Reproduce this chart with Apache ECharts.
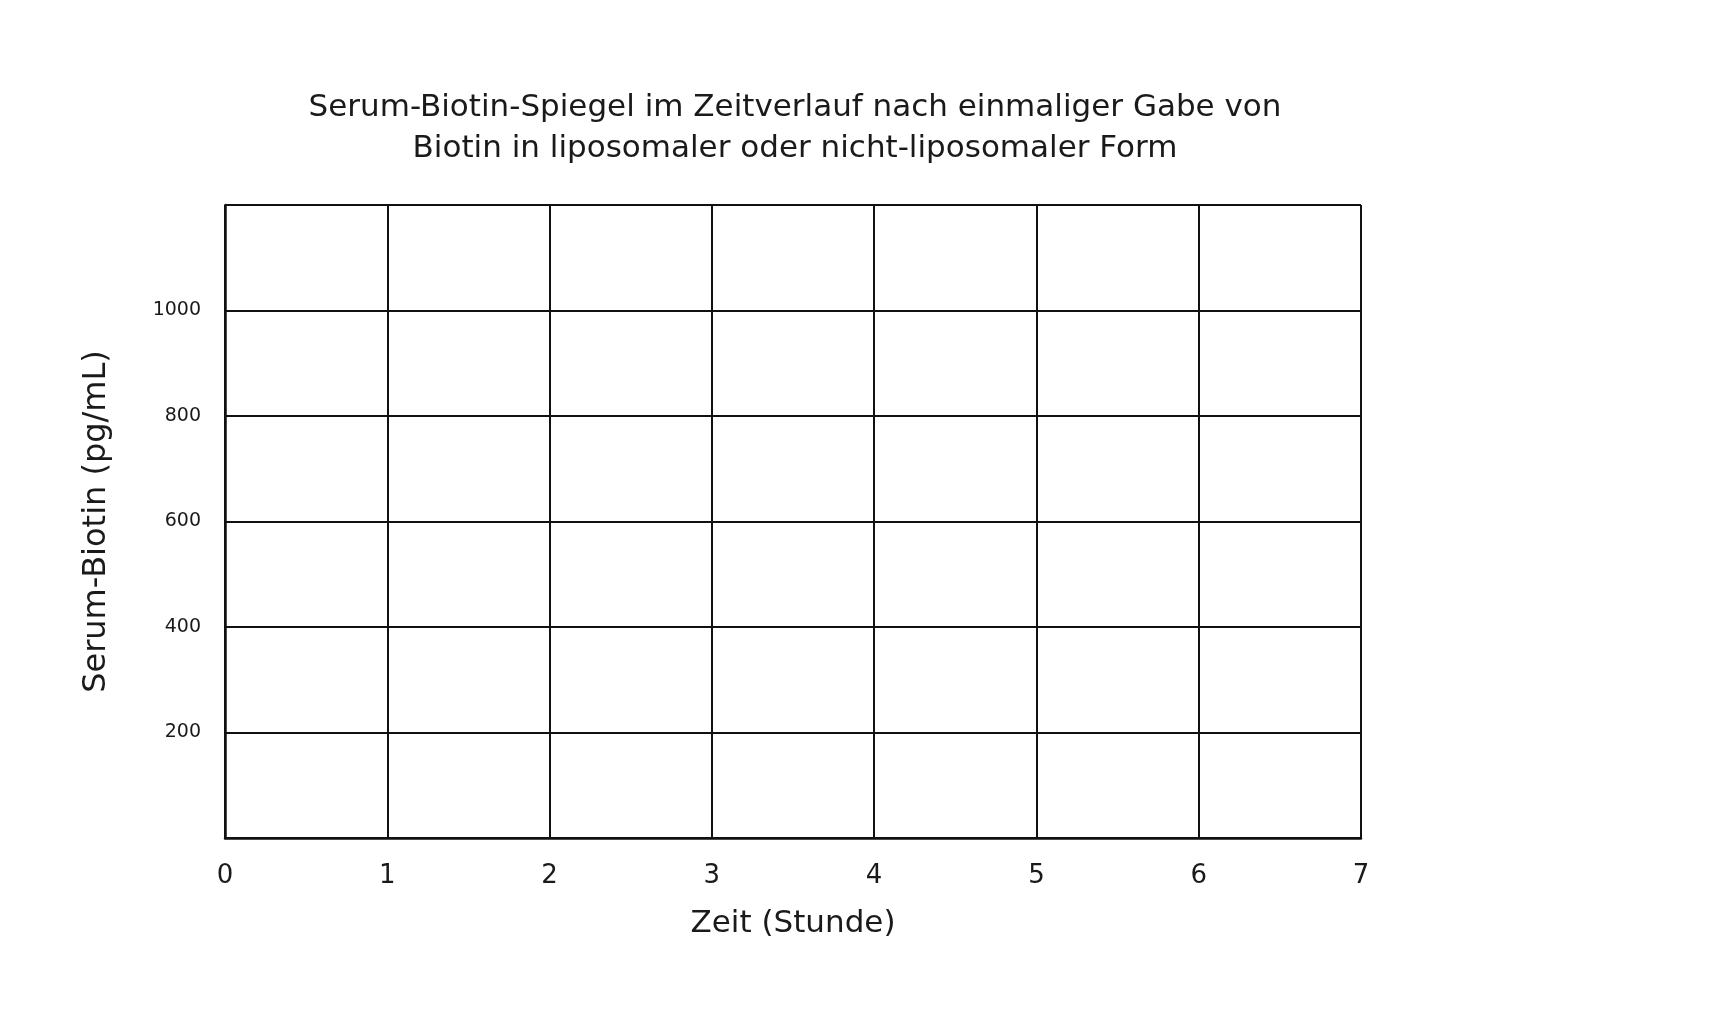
<!DOCTYPE html>
<html>
<head>
<meta charset="utf-8">
<script src="https://cdn.jsdelivr.net/npm/echarts@6/dist/echarts.min.js"></script>
<style>
  html, body { margin: 0; padding: 0; background: #fff; }
  #main { width: 1719px; height: 1029px; }
</style>
</head>
<body>
<div id="main"></div>
<script>
// Achsen (leeres Arbeitsblatt-Diagramm)
var hourTicks = [0, 1, 2, 3, 4, 5, 6, 7];
var biotinTicks = [0, 200, 400, 600, 800, 1000, 1200];
// Messreihen - im Original noch nicht eingetragen
var liposomal = [];
var nichtLiposomal = [];

var font = '"DejaVu Sans", sans-serif';
var ink = '#111';
var textInk = '#1a1a1a';

var chart = echarts.init(document.getElementById('main'));
chart.setOption({
  backgroundColor: '#fff',
  animation: false,
  title: {
    text: 'Serum-Biotin-Spiegel im Zeitverlauf nach einmaliger Gabe von\nBiotin in liposomaler oder nicht-liposomaler Form',
    left: 790,
    top: 82,
    textAlign: 'center',
    textStyle: {
      fontFamily: font,
      fontSize: 31,
      fontWeight: 'normal',
      color: textInk,
      lineHeight: 41
    }
  },
  grid: { left: 225, right: 358, top: 205, bottom: 191, containLabel: false },
  xAxis: {
    type: 'value',
    min: hourTicks[0],
    max: hourTicks[hourTicks.length - 1],
    interval: hourTicks[1] - hourTicks[0],
    name: 'Zeit (Stunde)',
    nameLocation: 'middle',
    nameGap: 70,
    nameTextStyle: { fontFamily: font, fontSize: 31, color: textInk },
    axisLine: { show: true, lineStyle: { color: ink, width: 2.5 } },
    axisTick: { show: false },
    axisLabel: { fontFamily: font, fontSize: 26, color: textInk, margin: 25 },
    splitLine: { show: true, lineStyle: { color: ink, width: 2 } }
  },
  yAxis: {
    type: 'value',
    min: biotinTicks[0],
    max: biotinTicks[biotinTicks.length - 1],
    interval: biotinTicks[1] - biotinTicks[0],
    name: 'Serum-Biotin (pg/mL)',
    nameLocation: 'middle',
    nameGap: 112,
    nameTextStyle: { fontFamily: font, fontSize: 32, color: textInk },
    axisLine: { show: true, lineStyle: { color: ink, width: 2.5 } },
    axisTick: { show: false },
    axisLabel: {
      fontFamily: font, fontSize: 19, color: textInk, margin: 24,
      showMinLabel: false, showMaxLabel: false,
      formatter: function (v) { return String(v); }
    },
    splitLine: { show: true, lineStyle: { color: ink, width: 2 } }
  },
  series: [
    { name: 'liposomal', type: 'line', data: liposomal },
    { name: 'nicht-liposomal', type: 'line', data: nichtLiposomal }
  ]
});
</script>
</body>
</html>
